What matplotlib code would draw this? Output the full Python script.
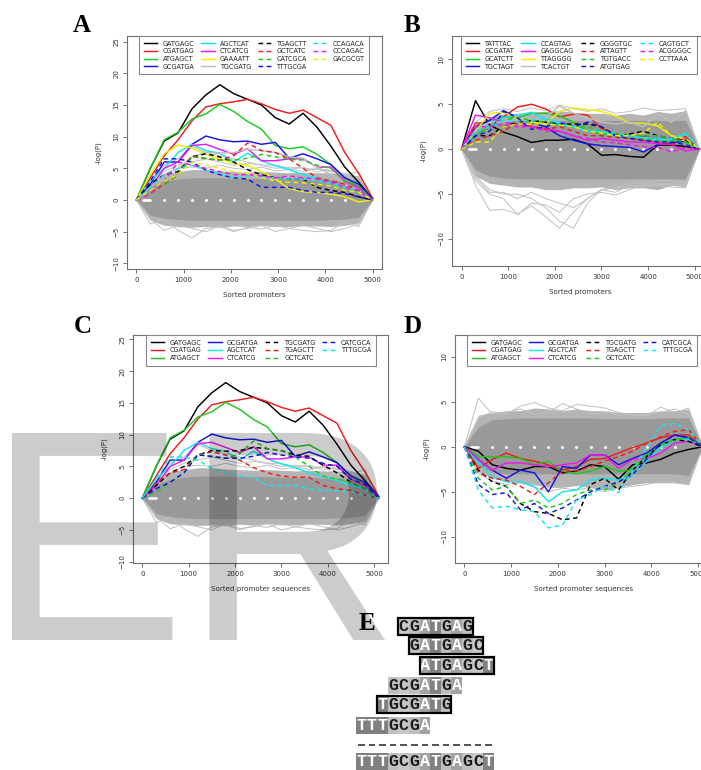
import matplotlib
matplotlib.use('Agg')
import matplotlib.pyplot as plt
from matplotlib.patches import Rectangle, PathPatch
from matplotlib.textpath import TextPath
from matplotlib.font_manager import FontProperties
from matplotlib.transforms import Affine2D

W, H = 701, 770
fig = plt.figure(figsize=(W / 100, H / 100), dpi=100)
plt.rcParams['font.family'] = ['DejaVu Sans']

# ---------------- data ----------------
x_a = [0, 294, 588, 882, 1176, 1471, 1765, 2059, 2353, 2647, 2941, 3235, 3529, 3824, 4118, 4412, 4706, 5000]
x_b = [0, 300, 600, 900, 1200, 1500, 1800, 2100, 2400, 2700, 3000, 3300, 3600, 3900, 4200, 4500, 4800, 5100]

# enriched motifs (panels A and C)
GATGAGC = [0, 5.0, 9.3, 10.6, 14.4, 16.6, 18.2, 16.8, 15.9, 15.0, 13.0, 12.0, 13.7, 11.5, 8.5, 5.2, 2.8, 0.2]
CGATGAG = [0, 3.5, 7.0, 9.5, 12.5, 14.7, 15.2, 15.5, 15.9, 15.2, 14.3, 13.7, 14.2, 13.0, 11.8, 7.5, 4.2, 0.3]
ATGAGCT = [0, 5.0, 9.5, 10.7, 12.8, 13.6, 15.1, 14.0, 12.4, 11.2, 8.6, 8.1, 8.4, 7.2, 5.6, 3.5, 2.0, 0]
GCGATGA = [0, 2.5, 6.0, 6.0, 8.8, 10.1, 9.5, 9.2, 9.3, 8.8, 9.1, 6.6, 7.3, 6.5, 5.6, 3.5, 2.5, 0.3]
AGCTCAT = [0, 3.0, 5.0, 7.5, 8.8, 7.8, 7.4, 6.0, 7.4, 6.2, 5.4, 4.8, 4.0, 3.4, 2.8, 2.0, 1.5, 0]
CTCATCG = [0, 2.0, 5.0, 6.0, 8.6, 8.8, 8.0, 7.2, 8.1, 6.2, 6.2, 6.5, 6.5, 5.2, 5.2, 3.0, 2.0, 0]
GAAAATT = [0, 4.0, 7.3, 8.7, 8.2, 7.2, 6.5, 5.8, 5.5, 4.5, 3.3, 1.8, 1.3, 1.2, 0.9, 0.5, -0.3, 0]
TGCGATG = [0, 2.0, 4.0, 5.0, 6.8, 7.5, 7.4, 7.5, 8.0, 7.8, 7.5, 6.8, 6.6, 5.2, 4.0, 2.5, 1.5, 0]
TGAGCTT = [0, 2.5, 4.0, 4.5, 6.8, 7.3, 6.8, 6.0, 4.8, 4.0, 3.5, 3.3, 3.3, 2.0, 1.5, 1.2, 0.5, 0]
GCTCATC = [0, 1.0, 2.5, 4.0, 7.0, 6.5, 6.3, 7.0, 9.0, 7.8, 7.5, 6.5, 5.0, 3.5, 3.0, 2.5, 1.5, 0]
CATCGCA = [0, 1.5, 2.5, 4.0, 6.8, 6.6, 6.3, 6.3, 6.6, 7.2, 6.8, 6.5, 6.3, 5.5, 5.0, 3.0, 2.2, 0]
TTTGCGA = [0, 3.0, 6.5, 6.5, 6.0, 4.7, 4.0, 3.5, 3.3, 2.0, 2.0, 2.0, 1.5, 1.2, 1.2, 1.0, 0.5, 0]
CCAGACA = [0, 2.0, 4.0, 5.0, 5.5, 4.7, 4.2, 3.5, 3.8, 3.6, 3.5, 3.3, 3.3, 3.0, 2.5, 2.0, 1.3, 0]
CCCAGAC = [0, 1.0, 3.0, 6.0, 5.5, 5.0, 4.5, 4.0, 4.0, 3.8, 3.5, 3.8, 3.5, 3.3, 2.8, 2.0, 1.5, 0]
GACGCGT = [0, 1.5, 3.0, 4.0, 6.0, 5.5, 5.0, 4.5, 4.2, 3.5, 3.0, 2.8, 2.7, 2.5, 2.2, 1.5, 1.2, 0]

# panel B motifs
TATTTAC = [0, 5.4, 2.7, 1.9, 1.4, 0.75, 1.0, 1.0, 1.1, 0.6, -0.67, -0.6, -0.8, -0.9, 0.45, 0.45, 0.3, 0]
GCGATAT = [0, 2.9, 3.0, 3.6, 4.7, 5.0, 4.5, 3.6, 3.9, 3.8, 2.3, 1.7, 1.5, 1.4, 1.2, 1.0, 1.4, 0]
GCATCTT = [0, 1.5, 2.5, 3.6, 3.5, 4.0, 4.0, 3.7, 3.0, 2.0, 1.7, 1.6, 1.5, 1.2, 1.0, 0.9, 0.8, 0]
TGCTAGT = [0, 2.5, 3.2, 4.3, 3.5, 3.0, 2.5, 1.5, 1.0, 0.6, 0.4, 0.3, 0.2, -0.3, 0.5, 0.7, 0.9, 0]
CCAGTAG = [0, 2.0, 3.0, 3.5, 3.8, 4.1, 3.3, 3.0, 2.5, 2.0, 2.0, 1.5, 1.5, 1.3, 1.2, 1.0, 1.7, 0]
GAGGCAG = [0, 3.8, 3.5, 3.0, 2.8, 2.5, 2.3, 2.0, 1.5, 1.0, 1.2, 1.0, 0.8, 0.8, 0.6, 0.5, -0.2, 0]
TTAGGGG = [0, 2.0, 4.0, 4.1, 3.5, 3.0, 2.8, 4.2, 4.6, 4.4, 4.2, 3.7, 2.9, 2.9, 2.6, 1.5, 0.9, 0]
TCACTGT = [0, 2.0, 3.0, 3.0, 3.5, 3.2, 3.5, 4.8, 4.0, 3.5, 3.0, 2.8, 3.0, 2.5, 4.0, 3.0, 4.2, 0]
GGGGTGC = [0, 1.5, 1.5, 2.5, 3.0, 3.2, 3.0, 2.8, 2.8, 2.8, 2.5, 1.5, 1.7, 2.0, 1.5, 1.2, 1.0, 0]
ATTAGTT = [0, 1.0, 1.5, 2.0, 3.0, 2.5, 2.2, 2.5, 2.0, 1.5, 1.5, 1.3, 1.2, 1.0, 0.8, 0.5, 1.3, 0]
TGTGACC = [0, 2.0, 2.5, 3.2, 3.5, 3.2, 3.0, 2.7, 2.5, 2.5, 2.0, 1.8, 1.5, 1.5, 1.5, 1.2, 0.8, 0]
ATGTGAG = [0, 1.5, 2.0, 4.2, 3.5, 2.2, 2.5, 3.0, 2.5, 3.0, 2.5, 1.5, 1.2, 1.0, 0.8, 0.8, 0.5, 0]
CAGTGCT = [0, 2.0, 2.5, 3.2, 3.0, 3.2, 3.5, 2.8, 2.5, 2.0, 2.0, 1.8, 1.5, 1.2, 1.0, 1.2, 1.8, 0]
ACGGGGC = [0, 2.5, 2.5, 2.8, 2.5, 2.5, 2.0, 2.0, 1.5, 1.2, 0.8, 0.7, 0.5, 0.3, 0.2, -0.3, 0.2, 0]
CCTTAAA = [0, 0.8, 0.8, 2.5, 2.8, 2.8, 2.8, 2.7, 2.5, 2.0, 1.8, 1.5, 1.5, 1.8, 3.0, 1.5, 1.2, 0]

# panel D motifs
D_GATGAGC = [0, -0.5, -2.0, -2.4, -2.6, -2.2, -2.2, -2.9, -2.7, -2.0, -2.2, -3.6, -2.0, -1.8, -1.4, -0.7, -0.3, 0]
D_CGATGAG = [0, -2.4, -1.4, -0.7, -1.3, -1.6, -2.0, -2.6, -2.2, -1.4, -1.3, -0.7, -0.1, 0.4, 1.0, 1.3, 1.3, 0]
D_ATGAGCT = [0, -1.1, -1.1, -1.1, -1.3, -2.0, -1.6, -2.7, -3.0, -2.7, -2.2, -2.7, -2.6, -0.9, 0.2, 0.8, 1.0, 0]
D_GCGATGA = [0, -1.4, -2.6, -3.5, -2.6, -2.9, -5.0, -2.2, -2.4, -0.9, -0.9, -2.0, -1.3, -0.7, 0.4, 1.3, 1.0, 0]
D_AGCTCAT = [0, -1.8, -3.3, -3.9, -3.9, -4.4, -6.1, -5.0, -4.8, -3.7, -3.5, -3.7, -3.1, -1.6, -0.1, 0.8, 0.8, 0]
D_CTCATCG = [0, -1.4, -2.6, -1.8, -1.8, -2.0, -2.2, -2.0, -1.8, -0.9, -0.9, -2.4, -1.4, -1.3, -0.7, 0.4, 0.6, 0]
D_TGCGATG = [0, -2.6, -3.9, -4.4, -6.3, -7.2, -7.4, -8.1, -7.9, -4.2, -3.5, -4.8, -2.6, -1.1, 0.2, 0.8, 0.6, 0]
D_TGAGCTT = [0, -2.9, -3.5, -3.7, -4.4, -5.3, -4.0, -2.7, -2.7, -2.2, -1.6, -1.1, -0.5, 0.4, 1.1, 1.7, 1.9, 0]
D_GCTCATC = [0, -3.5, -4.8, -4.4, -6.3, -5.9, -6.8, -6.3, -5.3, -4.8, -4.8, -4.0, -2.4, -1.1, 0.2, 0.8, 1.0, 0]
D_CATCGCA = [0, -4.2, -5.3, -5.1, -7.0, -6.3, -7.4, -6.8, -5.9, -5.0, -4.4, -3.9, -3.1, -1.4, 0.4, 1.3, 1.0, 0]
D_TTTGCGA = [0, -4.8, -6.8, -6.6, -7.0, -7.2, -9.0, -8.7, -5.9, -5.3, -4.4, -5.1, -2.6, -0.1, 2.3, 2.6, 1.9, 0]

# background (all other heptamers): dense core and fringe envelopes, plus stray lines
A_core_hi = [0, 2.2, 3.0, 3.3, 3.5, 3.5, 3.5, 3.4, 3.4, 3.4, 3.3, 3.3, 3.3, 3.2, 3.2, 3.0, 2.6, 0]
A_core_lo = [0, -2.4, -2.9, -3.1, -3.2, -3.2, -3.2, -3.2, -3.2, -3.2, -3.2, -3.2, -3.2, -3.2, -3.1, -3.0, -2.7, 0]
A_frg_hi = [0, 3.0, 4.2, 4.5, 4.8, 4.8, 4.6, 4.5, 4.4, 4.5, 4.4, 4.3, 4.4, 4.3, 4.3, 4.2, 3.8, 0]
A_frg_lo = [0, -3.2, -4.0, -4.2, -4.3, -4.2, -4.3, -4.1, -4.2, -4.0, -4.2, -4.2, -4.1, -4.1, -4.2, -4.0, -3.6, 0]
A_stray = [
    [0, -3.8, -3.0, -4.8, -6.0, -4.5, -4.2, -5.0, -4.3, -4.6, -4.0, -4.5, -4.8, -5.0, -4.8, -3.5, -4.2, 0],
    [0, -3.0, -4.8, -4.0, -4.5, -5.0, -4.0, -4.8, -4.5, -4.0, -5.0, -4.5, -4.0, -4.5, -5.0, -4.5, -3.8, 0],
    [0, 3.0, 5.5, 6.5, 8.5, 7.5, 7.0, 6.5, 6.0, 5.5, 5.0, 5.2, 5.0, 4.8, 4.5, 4.2, 3.5, 0],
    [0, 2.5, 4.5, 5.5, 6.0, 6.5, 6.0, 5.5, 5.8, 5.5, 5.5, 5.0, 4.5, 5.0, 4.6, 4.0, 3.0, 0],
    [0, 2.0, 4.0, 5.0, 5.2, 5.0, 5.5, 5.0, 4.8, 5.2, 4.6, 4.8, 5.2, 4.4, 5.0, 3.8, 4.5, 0],
]
B_core_hi = [0, 2.2, 2.9, 3.1, 3.2, 3.2, 3.2, 3.2, 3.2, 3.2, 3.2, 3.2, 3.2, 3.2, 3.2, 3.2, 3.2, 0]
B_core_lo = [0, -2.3, -3.0, -3.2, -3.3, -3.3, -3.3, -3.3, -3.3, -3.3, -3.3, -3.3, -3.3, -3.3, -3.3, -3.3, -3.3, 0]
B_frg_hi = [0, 2.8, 3.6, 3.9, 4.0, 4.1, 4.2, 4.3, 4.1, 4.0, 4.0, 3.8, 4.0, 3.8, 4.2, 4.0, 4.3, 0]
B_frg_lo = [0, -3.0, -3.8, -4.0, -4.2, -4.2, -4.5, -4.5, -4.3, -4.3, -4.2, -4.5, -4.3, -4.3, -4.5, -4.0, -4.2, 0]
B_stray = [
    [0, -4.0, -6.8, -6.7, -7.2, -6.3, -7.5, -8.8, -7.0, -5.5, -4.5, -4.3, -3.8, -3.8, -3.5, -3.5, -3.8, 0],
    [0, -3.5, -5.0, -5.5, -7.3, -6.0, -6.2, -7.0, -5.5, -5.0, -4.8, -5.1, -4.5, -4.0, -4.0, -3.8, -4.2, 0],
    [0, -3.0, -4.5, -5.0, -5.0, -5.5, -6.5, -8.0, -8.8, -6.0, -4.5, -4.3, -4.2, -4.0, -3.8, -4.0, -4.0, 0],
    [0, -3.2, -4.8, -4.8, -5.5, -4.8, -5.5, -6.0, -6.5, -5.5, -4.5, -4.8, -4.0, -4.2, -4.0, -4.2, -4.3, 0],
    [0, 3.0, 4.2, 4.5, 4.2, 4.6, 4.3, 4.9, 4.5, 4.2, 4.5, 4.0, 4.2, 4.6, 4.3, 4.4, 4.5, 0],
]
D_core_hi = [0, 2.2, 3.0, 3.1, 3.2, 3.2, 3.2, 3.2, 3.2, 3.2, 3.1, 3.1, 3.1, 3.1, 3.2, 3.2, 3.2, 0]
D_core_lo = [0, -2.2, -2.8, -3.0, -3.0, -3.0, -3.0, -3.0, -3.0, -3.0, -3.0, -3.0, -3.0, -3.0, -3.0, -3.0, -3.2, 0]
D_frg_hi = [0, 3.5, 3.8, 4.0, 4.0, 4.3, 4.2, 4.0, 4.2, 4.0, 4.0, 3.8, 3.8, 3.8, 4.0, 4.0, 4.2, 0]
D_frg_lo = [0, -2.8, -3.5, -3.8, -4.0, -4.2, -4.5, -4.5, -4.3, -4.5, -4.8, -4.5, -4.2, -4.0, -4.0, -4.0, -4.2, 0]
D_stray = [
    [0, 5.4, 3.6, 3.8, 4.2, 3.6, 3.8, 4.8, 4.2, 3.6, 3.8, 3.5, 3.6, 3.4, 4.4, 3.8, 4.3, 0],
    [0, 3.2, 3.9, 3.6, 4.5, 4.9, 4.3, 4.0, 4.7, 4.5, 4.3, 3.8, 3.5, 3.6, 3.8, 4.2, 3.6, 0],
    [0, -3.0, -3.8, -4.2, -4.0, -4.5, -5.0, -4.6, -4.8, -4.5, -5.0, -4.6, -4.4, -4.2, -3.8, -4.0, -4.2, 0],
]

# legends
A_names = ['GATGAGC', 'CGATGAG', 'ATGAGCT', 'GCGATGA', 'AGCTCAT', 'CTCATCG', 'GAAAATT', 'TGCGATG',
           'TGAGCTT', 'GCTCATC', 'CATCGCA', 'TTTGCGA', 'CCAGACA', 'CCCAGAC', 'GACGCGT']
A_vals = [GATGAGC, CGATGAG, ATGAGCT, GCGATGA, AGCTCAT, CTCATCG, GAAAATT, TGCGATG,
          TGAGCTT, GCTCATC, CATCGCA, TTTGCGA, CCAGACA, CCCAGAC, GACGCGT]
B_names = ['TATTTAC', 'GCGATAT', 'GCATCTT', 'TGCTAGT', 'CCAGTAG', 'GAGGCAG', 'TTAGGGG', 'TCACTGT',
           'GGGGTGC', 'ATTAGTT', 'TGTGACC', 'ATGTGAG', 'CAGTGCT', 'ACGGGGC', 'CCTTAAA']
B_vals = [TATTTAC, GCGATAT, GCATCTT, TGCTAGT, CCAGTAG, GAGGCAG, TTAGGGG, TCACTGT,
          GGGGTGC, ATTAGTT, TGTGACC, ATGTGAG, CAGTGCT, ACGGGGC, CCTTAAA]
C_names = ['GATGAGC', 'CGATGAG', 'ATGAGCT', 'GCGATGA', 'AGCTCAT', 'CTCATCG',
           'TGCGATG', 'TGAGCTT', 'GCTCATC', 'CATCGCA', 'TTTGCGA']
C_vals = [GATGAGC, CGATGAG, ATGAGCT, GCGATGA, AGCTCAT, CTCATCG,
          TGCGATG, TGAGCTT, GCTCATC, CATCGCA, TTTGCGA]
D_vals = [D_GATGAGC, D_CGATGAG, D_ATGAGCT, D_GCGATGA, D_AGCTCAT, D_CTCATCG,
          D_TGCGATG, D_TGAGCTT, D_GCTCATC, D_CATCGCA, D_TTTGCGA]

x_ticks = [0, 1000, 2000, 3000, 4000, 5000]

# panel E
e_rows = ['CGATGAG', 'GATGAGC', 'ATGAGCT', 'GCGATGA', 'TGCGATG', 'TTTGCGA']
e_offsets = [4, 5, 6, 3, 2, 0]
e_boxed = [True, True, True, False, True, False]
e_consensus = 'TTTGCGATGAGCT'

# ---------------- style ----------------
palette = ['#000000', '#ee1c1c', '#1ec81e', '#1414e6', '#14e6ee', '#ee18ee', '#eeee00', '#bebebe']
C_colors = ['#000000', '#ee1c1c', '#1ec81e', '#1414e6', '#14e6ee', '#ee18ee']
FS = 4.7
frame_c = '#707070'


def rect(l, r, t, b):
    return [l / W, 1 - b / H, (r - l) / W, (b - t) / H]


def style_axes(ax, xlim, ylim, yticks, xlabel):
    ax.set_xlim(*xlim)
    ax.set_ylim(*ylim)
    ax.set_xticks(x_ticks)
    ax.set_yticks(yticks)
    for s in ax.spines.values():
        s.set_color(frame_c)
        s.set_linewidth(0.8)
    ax.tick_params(axis='both', length=3.2, width=0.7, color=frame_c, labelsize=FS + 0.3,
                   labelcolor='#333333', pad=2.5)
    for lab in ax.get_yticklabels():
        lab.set_rotation(90)
        lab.set_va('center')
    ax.set_xlabel(xlabel, fontsize=FS + 0.4, color='#333333', labelpad=6.5)
    ax.set_ylabel('-log(P)', fontsize=FS + 0.3, color='#333333', labelpad=8)


def background(ax, x, core_hi, core_lo, frg_hi, frg_lo, stray):
    ax.fill_between(x, frg_lo, frg_hi, color='#b4b4b4', lw=0, zorder=1)
    ax.fill_between(x, core_lo, core_hi, color='#999999', lw=0, zorder=1.2)
    for s in stray:
        ax.plot(x, s, color='#c0c0c0', lw=0.7, zorder=1.1)
    dots_x = x[2:16]
    ax.plot(dots_x, [0] * len(dots_x), ls='none', marker='o', ms=2.1, mfc='white', mec='none', zorder=2)
    ax.plot([(x[0] + x[1]) / 2, x[1]], [0, 0], color='white', lw=1.9, solid_capstyle='round', zorder=2)


def motifs(ax, x, vals, names, colors, styles, leg_box):
    for v, n, c, st in zip(vals, names, colors, styles):
        if st == '-':
            ax.plot(x, v, color=c, lw=1.05, label=n, zorder=3)
        else:
            ax.plot(x, v, color=c, lw=1.05, ls=(0, (3.2, 2.4)), label=n, zorder=3)
    leg = ax.legend(loc='upper left', bbox_to_anchor=leg_box, mode='expand', ncol=4,
                    fontsize=FS, frameon=True, fancybox=False, edgecolor='#888888',
                    framealpha=1, borderaxespad=0, handlelength=2.1, handletextpad=0.8,
                    labelspacing=0.26, borderpad=0.7, columnspacing=1.0)
    leg.get_frame().set_linewidth(0.8)
    for t in leg.get_texts():
        t.set_color('#222222')
    leg.set_zorder(6)


ABstyles = ['-'] * 8 + ['--'] * 7
AB_colors = palette + palette[:7]
CD_styles = ['-'] * 6 + ['--'] * 5
CD_colors = C_colors + C_colors[:5]

# Panel A
axA = fig.add_axes(rect(127, 382, 36, 269))
background(axA, x_a, A_core_hi, A_core_lo, A_frg_hi, A_frg_lo, A_stray)
motifs(axA, x_a, A_vals, A_names, AB_colors, ABstyles, (0.047, 0, 0.902, 1.0))
style_axes(axA, (-200, 5200), (-10.9, 25.9), [-10, -5, 0, 5, 10, 15, 20, 25], 'Sorted promoters')

# Panel B
axB = fig.add_axes(rect(452, 709, 36, 266))
background(axB, x_b, B_core_hi, B_core_lo, B_frg_hi, B_frg_lo, B_stray)
motifs(axB, x_b, B_vals, B_names, AB_colors, ABstyles, (0.035, 0, 0.918, 1.0))
style_axes(axB, (-204, 5304), (-13.0, 12.6), [-10, -5, 0, 5, 10], 'Sorted promoters')

# Panel C
axC = fig.add_axes(rect(133, 388, 335, 563))
background(axC, x_b, A_core_hi, A_core_lo, A_frg_hi, A_frg_lo, A_stray)
motifs(axC, x_b, C_vals, C_names, CD_colors, CD_styles, (0.051, 0, 0.902, 1.0))
style_axes(axC, (-200, 5300), (-10.2, 25.7), [-10, -5, 0, 5, 10, 15, 20, 25], 'Sorted promoter sequences')

# Panel D
axD = fig.add_axes(rect(455, 712, 335, 563))
background(axD, x_b, D_core_hi, D_core_lo, D_frg_hi, D_frg_lo, D_stray)
motifs(axD, x_b, D_vals, C_names, CD_colors, CD_styles, (0.047, 0, 0.895, 1.0))
style_axes(axD, (-200, 5300), (-12.9, 12.4), [-10, -5, 0, 5, 10], 'Sorted promoter sequences')

# ---------------- overlay: labels, panel E, watermark ----------------
ov = fig.add_axes([0, 0, 1, 1], zorder=20)
ov.set_xlim(0, W)
ov.set_ylim(H, 0)
ov.axis('off')
ov.patch.set_alpha(0)

lab_kw = dict(fontfamily='Liberation Serif', fontweight='bold', fontsize=18, va='baseline', ha='left', color='black')
for lab, (lx, ly) in zip('ABCDE', [(73, 32), (404, 32), (74, 333), (404, 333), (359, 630)]):
    ov.text(lx, ly, lab, **lab_kw)

bg_map = {'T': '#808080', 'A': '#a2a2a2', 'G': '#bfbfbf', 'C': '#c8c8c8'}
fg_map = {'T': 'white', 'A': 'white', 'G': '#1a1a1a', 'C': '#1a1a1a'}
cell_w = 10.6
x0 = 356
row_tops = [618, 637, 657, 677, 696, 717]
row_h = 16.5


def draw_seq(seq, col0, top, boxed):
    for i, ch in enumerate(seq):
        cx = x0 + (col0 + i) * cell_w
        ov.add_patch(Rectangle((cx, top), cell_w, row_h, facecolor=bg_map[ch], edgecolor='none', zorder=1))
        ov.text(cx + cell_w / 2, top + row_h / 2 + 0.5, ch, fontfamily='Liberation Mono', fontweight='bold',
                fontsize=12, color=fg_map[ch], ha='center', va='center', zorder=2)
    if boxed:
        ov.add_patch(Rectangle((x0 + col0 * cell_w, top), len(seq) * cell_w, row_h, facecolor='none',
                               edgecolor='black', lw=1.6, zorder=3))


for seq, off, top, bx in zip(e_rows, e_offsets, row_tops, e_boxed):
    draw_seq(seq, off, top, bx)
for i in range(len(e_consensus)):
    cx = x0 + i * cell_w
    ov.plot([cx + 2, cx + 8.6], [745, 745], color='#222222', lw=1.1, solid_capstyle='butt')
draw_seq(e_consensus, 0, 753, False)

# watermark "ER", fitted to its box in the reference (pixel coords)
tp = TextPath((0, 0), 'ER', size=100, prop=FontProperties(family='Liberation Sans'))
ext = tp.get_extents()
wm_l, wm_r, wm_t, wm_b = 12, 385, 433, 640
sx = (wm_r - wm_l) / ext.width
sy = (wm_b - wm_t) / ext.height
tr = Affine2D().translate(-ext.x0, -ext.y0).scale(sx, -sy).translate(wm_l, wm_b)
wm = PathPatch(tr.transform_path(tp), facecolor='black', edgecolor='none', alpha=0.2, zorder=10)
ov.add_patch(wm)

fig.savefig('out.png', dpi=100)
